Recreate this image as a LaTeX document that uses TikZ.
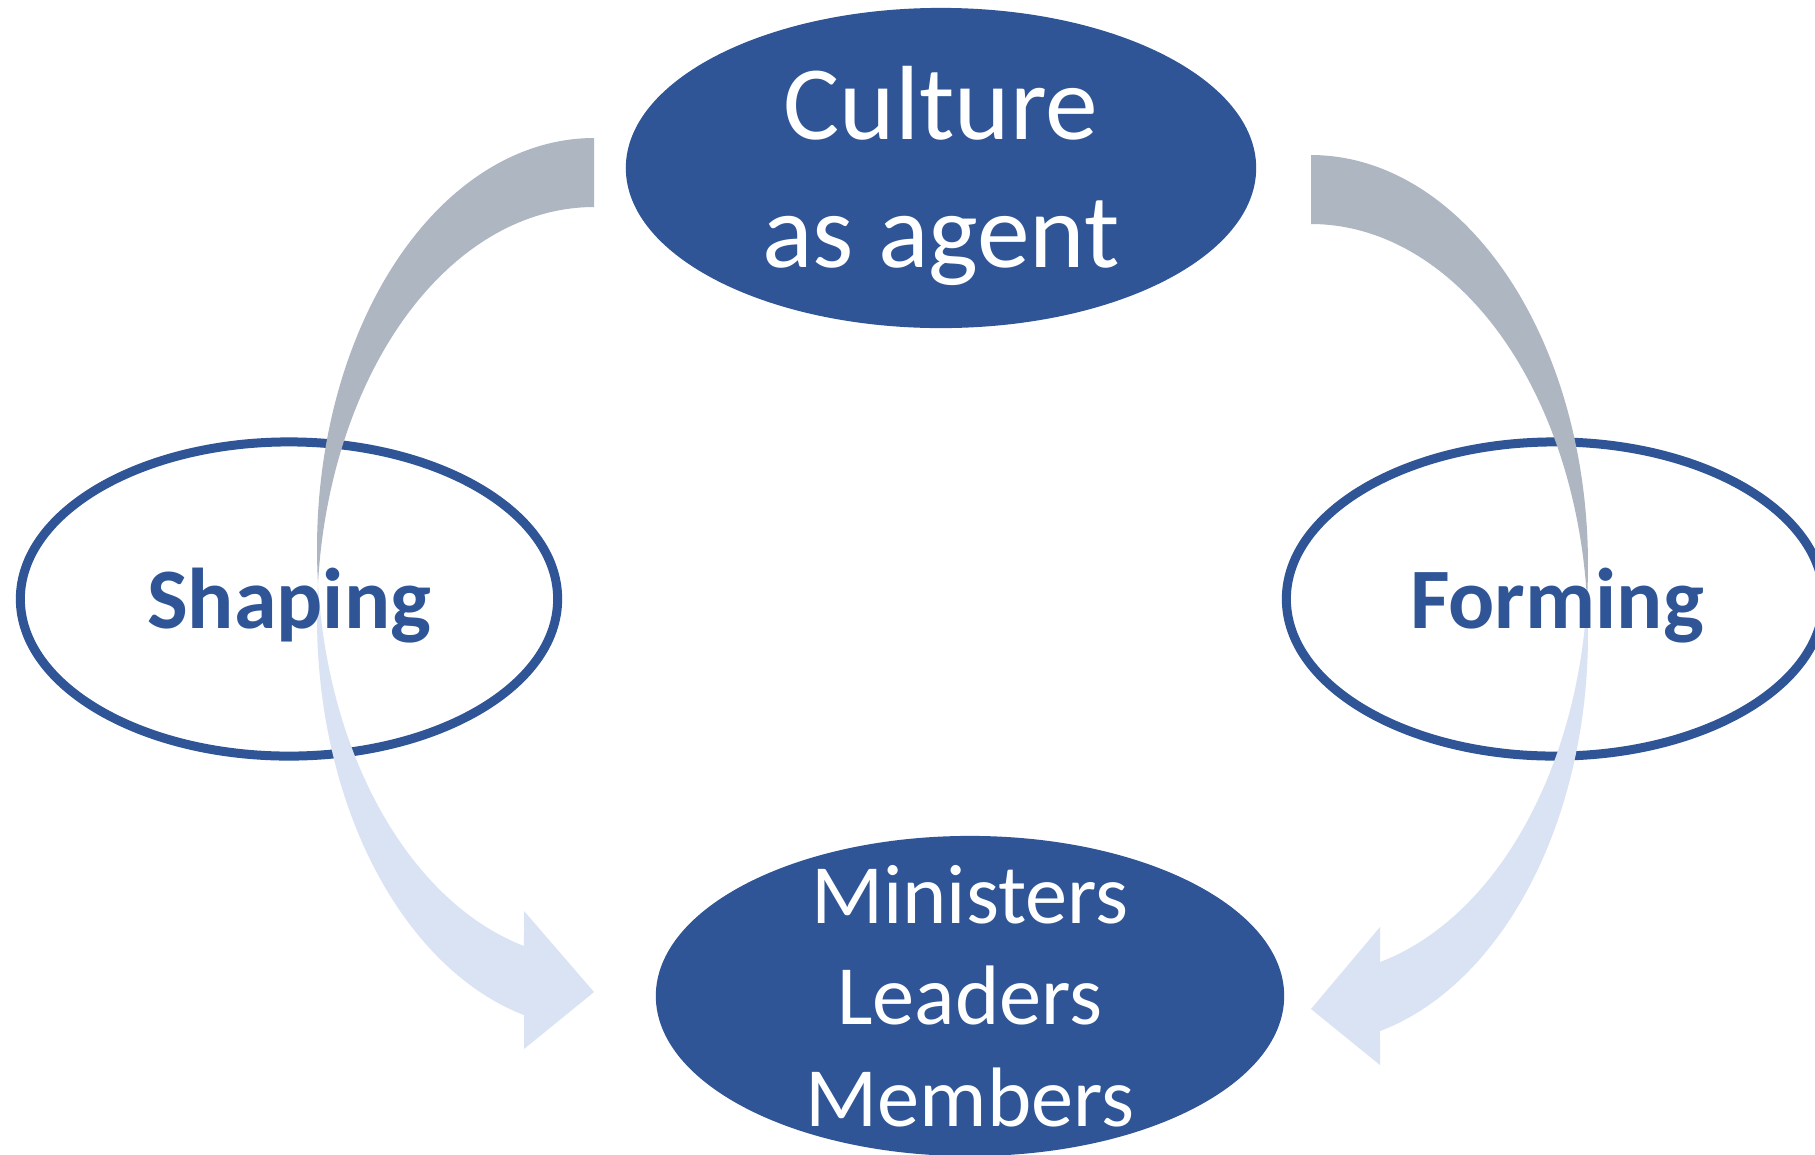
\documentclass[tikz,border=0pt]{standalone}
\usepackage{fontspec}
\setmainfont{Carlito}
\usetikzlibrary{shapes.geometric}
\definecolor{dblue}{HTML}{2F5597}
\definecolor{backc}{HTML}{AEB6C2}
\definecolor{frontc}{HTML}{DAE3F3}
\tikzset{
  solidoval/.style={ellipse, fill=dblue, draw=none, inner sep=0pt, minimum width=6.30cm, minimum height=3.20cm},
  ringoval/.style={ellipse, fill=white, draw=dblue, line width=0.09cm, inner sep=0pt, minimum width=5.37cm, minimum height=3.14cm},
  whitetext/.style={text=white, align=center, inner sep=0pt},
  bluetext/.style={text=dblue, font=\bfseries\fontsize{24.5}{29}\selectfont, inner sep=0pt, anchor=base},
}
\begin{document}
\begin{tikzpicture}[x=0.01cm, y=-0.01cm]
\useasboundingbox (0,0) rectangle (1815,1154);
\clip (0,0) rectangle (1815,1154);
\fill[white] (0,0) rectangle (1815,1154);
% ovals
\node[solidoval] (culture) at (941,168) {};
\node[solidoval, minimum width=6.28cm] (people) at (970,996) {};
\node[ringoval] (shaping) at (289,599) {};
\node[ringoval] (forming) at (1555,599) {};
% left curved arrow
\fill[backc] plot[domain=-90:-184.82, samples=90] ({594+277*cos(\x)},{548.7+410.7*sin(\x)})
  -- plot[domain=-175.18:-90, samples=90] ({594+277*cos(\x)},{617.7+410.7*sin(\x)}) -- cycle;
\fill[frontc] plot[domain=175.18:104.64, samples=90] ({594+277*cos(\x)},{548.7+410.7*sin(\x)})
  -- (524,911) -- (594,992) -- (524,1049)
  -- plot[domain=104.64:184.82, samples=90] ({594+277*cos(\x)},{617.7+410.7*sin(\x)}) -- cycle;
% right curved arrow
\fill[backc] plot[domain=-90:4.827, samples=90] ({1311+277*cos(\x)},{565+410*sin(\x)})
  -- plot[domain=-4.827:-90, samples=90] ({1311+277*cos(\x)},{634+410*sin(\x)}) -- cycle;
\fill[frontc] plot[domain=4.827:75.58, samples=90] ({1311+277*cos(\x)},{565+410*sin(\x)})
  -- (1380,927) -- (1311,1009) -- (1380,1065)
  -- plot[domain=75.58:-4.827, samples=90] ({1311+277*cos(\x)},{634+410*sin(\x)}) -- cycle;
% texts
\node[whitetext, font=\fontsize{30}{36.5}\selectfont, yshift=-0.08cm] (culturetxt) at (culture.center) {Culture\\as agent};
\node[whitetext, font=\fontsize{24}{28.8}\selectfont] (peopletxt) at (people.center) {Ministers\\Leaders\\Members};
\node[bluetext] (shapingtxt) at (289,628.5) {Shaping};
\node[bluetext] (formingtxt) at (1557,628.5) {Forming};
\end{tikzpicture}
\end{document}
